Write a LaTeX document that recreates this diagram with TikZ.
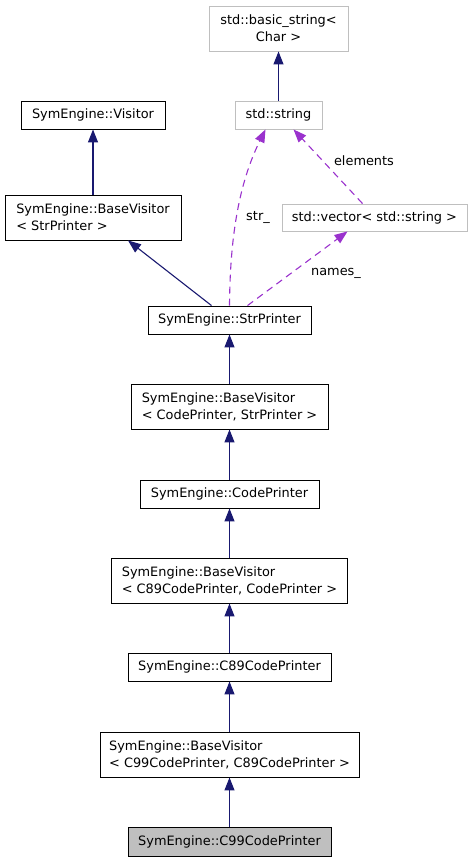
\documentclass[tikz,border=0pt]{standalone}
\usepackage{fontspec}
\setmainfont{DejaVu Sans}
\usepackage{tikz}
\usetikzlibrary{arrows.meta}
\definecolor{inhblue}{RGB}{25,25,112}
\definecolor{usepurple}{RGB}{154,50,205}
\definecolor{extgray}{RGB}{191,191,191}
\tikzset{>=stealth}
\tikzset{
  cls/.style={draw=black,line width=0.9pt,fill=white,inner sep=0pt,align=left,
    font=\fontsize{12.9}{17}\selectfont},
  extcls/.style={cls,draw=extgray},
  curcls/.style={cls,fill=extgray},
  inh/.style={draw=inhblue,line width=1.1pt,-{Triangle[length=13pt,width=10pt]}},
  usage/.style={draw=usepurple,line width=1.1pt,dash pattern=on 7pt off 5pt,
    -{Triangle[length=13pt,width=10pt]}},
  edgelabel/.style={font=\fontsize{12.9}{15}\selectfont,inner sep=0pt}
}

\begin{document}
\begin{tikzpicture}[x=1pt,y=-1pt]
    \useasboundingbox (0,0) rectangle (473,861);
    % external classes
    \node[extcls,minimum width=139pt,minimum height=45pt,align=center](bstr) at (278.5,28.5) {std::basic\_string<\\Char >};
    \node[extcls,minimum width=87pt,minimum height=28pt](str) at (278.5,115) {std::string};
    \node[extcls,minimum width=185pt,minimum height=27pt](vec) at (374.5,217.5) {std::vector< std::string >};
    % class hierarchy
    \node[cls,minimum width=144pt,minimum height=28pt](vis) at (93,115) {SymEngine::Visitor};
    \node[cls,minimum width=176pt,minimum height=45pt](bvstr) at (93,217.5) {SymEngine::BaseVisitor\\< StrPrinter >};
    \node[cls,minimum width=163pt,minimum height=28pt](strp) at (229.5,320) {SymEngine::StrPrinter};
    \node[cls,minimum width=197pt,minimum height=45pt](bvcode) at (229.5,406.5) {SymEngine::BaseVisitor\\< CodePrinter, StrPrinter >};
    \node[cls,minimum width=179pt,minimum height=28pt](codep) at (229.5,494) {SymEngine::CodePrinter};
    \node[cls,minimum width=236pt,minimum height=45pt](bvcea) at (229.5,580.5) {SymEngine::BaseVisitor\\< C89CodePrinter, CodePrinter >};
    \node[cls,minimum width=203pt,minimum height=28pt](ceap) at (229.5,667) {SymEngine::C89CodePrinter};
    \node[cls,minimum width=259pt,minimum height=45pt](bvcnn) at (229.5,754.5) {SymEngine::BaseVisitor\\< C99CodePrinter, C89CodePrinter >};
    \node[curcls,minimum width=203pt,minimum height=29pt](cnnp) at (229.5,841.5) {SymEngine::C99CodePrinter};

    % inheritance
    \draw[inh] (str.north) -- (bstr.south);
    \draw[inh] (bvstr.north) -- (vis.south);
    \draw[inh] ([xshift=-18pt]strp.north) -- ([xshift=35pt]bvstr.south);
    \draw[inh] (bvcode.north) -- (strp.south);
    \draw[inh] (codep.north) -- (bvcode.south);
    \draw[inh] (bvcea.north) -- (codep.south);
    \draw[inh] (ceap.north) -- (bvcea.south);
    \draw[inh] (bvcnn.north) -- (ceap.south);
    \draw[inh] (cnnp.north) -- (bvcnn.south);

    % members
    \draw[usage] (strp.north) .. controls (230,240) and (238,185) .. ([xshift=-13pt]str.south);
    \draw[usage] ([xshift=-12pt]vec.north) -- ([xshift=15pt]str.south);
    \draw[usage] ([xshift=18pt]strp.north) -- ([xshift=-27pt]vec.south);
    \node[edgelabel](lstr) at (258,217) {str\_};
    \node[edgelabel](lelem) at (364,161) {elements};
    \node[edgelabel](lnames) at (336,273) {names\_};
\end{tikzpicture}
\end{document}
